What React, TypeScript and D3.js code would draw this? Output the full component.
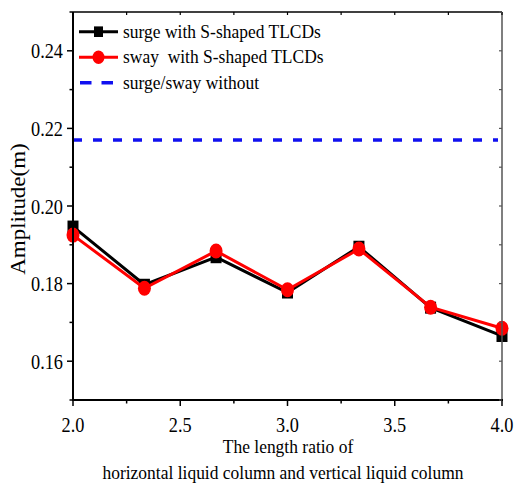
import React from "react";
import * as d3 from "d3";

// Length ratio of horizontal to vertical liquid column
const ratios = [2.0, 2.333, 2.667, 3.0, 3.333, 3.667, 4.0];
// Response amplitude (m)
const surgeWith = [0.1947, 0.1797, 0.1868, 0.1777, 0.1895, 0.1738, 0.1665];
const swayWith = [0.1925, 0.1788, 0.1884, 0.1784, 0.1889, 0.1739, 0.1685];
const without = 0.217;

const xTicks = [2.0, 2.5, 3.0, 3.5, 4.0];
const yTicks = [0.16, 0.18, 0.2, 0.22, 0.24];

const legendLabels = [
  "surge with S-shaped TLCDs",
  "sway  with S-shaped TLCDs",
  "surge/sway without",
];

const W = 514;
const H = 483;
const left = 73;
const right = 502;
const top = 12;
const bottom = 400;

const FONT = "'Liberation Serif', 'Times New Roman', serif";

const x = d3.scaleLinear().domain([2, 4]).range([left, right]);
const y = d3.scaleLinear().domain([0.15, 0.25]).range([bottom, top]);

// Condensed serif text
function T({
  x: tx,
  y: ty,
  size,
  sx = 0.9,
  anchor = "start",
  rotate = 0,
  children,
}: {
  x: number;
  y: number;
  size: number;
  sx?: number;
  anchor?: string;
  rotate?: number;
  children: React.ReactNode;
}) {
  const tf = rotate
    ? `translate(${tx},${ty}) rotate(${rotate}) scale(1,${sx})`
    : `translate(${tx},${ty}) scale(${sx},1)`;
  return (
    <text
      transform={tf}
      fontFamily={FONT}
      fontSize={size}
      textAnchor={anchor}
      fill="#000"
      style={{ whiteSpace: "pre" }}
    >
      {children}
    </text>
  );
}

export default function App() {
  const line = d3
    .line<number>()
    .x((_, i) => x(ratios[i]))
    .y((d) => y(d));

  const xMinor = d3.range(2, 4.001, 0.25);
  const yMinor = d3.range(0.15, 0.2501, 0.01);
  const sq = { w: 11, h: 12 };

  return (
    <svg
      width={W}
      height={H}
      style={{ position: "absolute", left: 0, top: 0, background: "#fff" }}
    >
      <rect width={W} height={H} fill="#fff" />

      {/* reference level without dampers */}
      <line
        x1={left}
        x2={right - 4}
        y1={y(without)}
        y2={y(without)}
        stroke="#1010f0"
        strokeWidth={3.5}
        strokeDasharray="9 11"
      />

      {/* surge series */}
      <path d={line(surgeWith) || ""} fill="none" stroke="#000" strokeWidth={3} />
      {surgeWith.map((v, i) => (
        <rect
          key={"s" + i}
          x={x(ratios[i]) - sq.w / 2}
          y={y(v) - sq.h / 2}
          width={sq.w}
          height={sq.h}
          fill="#000"
        />
      ))}

      {/* sway series */}
      <path d={line(swayWith) || ""} fill="none" stroke="#f00" strokeWidth={3} />
      {swayWith.map((v, i) => (
        <ellipse
          key={"w" + i}
          cx={x(ratios[i])}
          cy={y(v)}
          rx={6.5}
          ry={7.5}
          fill="#f00"
        />
      ))}

      {/* frame */}
      <line x1={left} x2={right} y1={top} y2={top} stroke="#000" strokeWidth={1.5} />
      <line x1={right} x2={right} y1={top} y2={bottom} stroke="#555" strokeWidth={1.5} />
      <line x1={left} x2={left} y1={top} y2={bottom + 1} stroke="#000" strokeWidth={2} />
      <line x1={left - 1} x2={right + 1} y1={bottom} y2={bottom} stroke="#000" strokeWidth={2} />

      {/* bottom ticks */}
      {xMinor.map((t, i) => {
        const major = Math.abs((t * 2) % 1) < 1e-6;
        return (
          <line
            key={"bx" + i}
            x1={x(t)}
            x2={x(t)}
            y1={bottom}
            y2={bottom + (major ? 6 : 3.5)}
            stroke="#000"
            strokeWidth={1.5}
          />
        );
      })}
      {/* top ticks */}
      {xMinor.map((t, i) => (
        <line
          key={"tx" + i}
          x1={x(t)}
          x2={x(t)}
          y1={top}
          y2={top + 3}
          stroke="#000"
          strokeWidth={1.2}
        />
      ))}
      {/* left ticks */}
      {yMinor.map((t, i) => {
        const major = yTicks.some((m) => Math.abs(m - t) < 1e-6);
        return (
          <line
            key={"ly" + i}
            x1={left}
            x2={left - (major ? 6 : 3.5)}
            y1={y(t)}
            y2={y(t)}
            stroke="#000"
            strokeWidth={1.5}
          />
        );
      })}
      {/* right ticks */}
      {yMinor.map((t, i) => (
        <line
          key={"ry" + i}
          x1={right}
          x2={right - 3}
          y1={y(t)}
          y2={y(t)}
          stroke="#555"
          strokeWidth={1.2}
        />
      ))}

      {/* tick labels */}
      {xTicks.map((t) => (
        <T key={"xl" + t} x={x(t)} y={432} size={21} sx={0.87} anchor="middle">
          {d3.format(".1f")(t)}
        </T>
      ))}
      {yTicks.map((t) => (
        <T key={"yl" + t} x={63} y={y(t) + 7.5} size={21} sx={0.87} anchor="end">
          {d3.format(".2f")(t)}
        </T>
      ))}

      {/* axis titles */}
      <T x={288} y={453} size={19} sx={0.92} anchor="middle">
        The length ratio of
      </T>
      <T x={283} y={479} size={19} sx={0.92} anchor="middle">
        horizontal liquid column and vertical liquid column
      </T>
      <T x={25} y={209} size={23} sx={0.92} anchor="middle" rotate={-90}>
        Amplitude(m)
      </T>

      {/* legend */}
      <g>
        <line x1={79} x2={118} y1={31.7} y2={31.7} stroke="#000" strokeWidth={3} />
        <rect x={98.5 - 4.5} y={31.7 - 5.3} width={9} height={10.6} fill="#000" />
        <T x={123} y={37.5} size={19} sx={0.92}>
          {legendLabels[0]}
        </T>

        <line x1={79} x2={118} y1={57.3} y2={57.3} stroke="#f00" strokeWidth={3} />
        <ellipse cx={98.5} cy={57.3} rx={6} ry={6.8} fill="#f00" />
        <T x={123} y={63.3} size={19} sx={0.92}>
          {legendLabels[1]}
        </T>

        <line
          x1={80}
          x2={120}
          y1={82.7}
          y2={82.7}
          stroke="#1010f0"
          strokeWidth={3.5}
          strokeDasharray="11.5 10"
        />
        <T x={123} y={89} size={19} sx={0.92}>
          {legendLabels[2]}
        </T>
      </g>
    </svg>
  );
}
